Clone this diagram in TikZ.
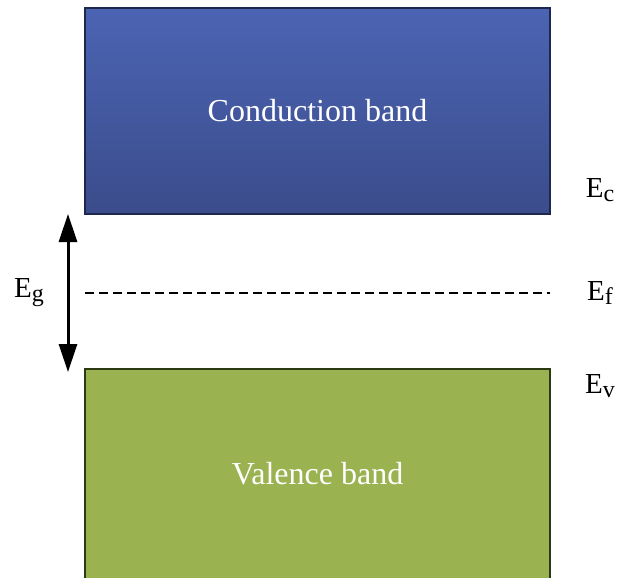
\documentclass[tikz,border=0pt]{standalone}
\usepackage{fontspec}
\setmainfont{Liberation Serif}
\usetikzlibrary{arrows.meta}
\definecolor{cbtop}{HTML}{4B64B3}
\definecolor{cbbot}{HTML}{3B4C8B}
\definecolor{cbline}{HTML}{1E284E}
\definecolor{vbfill}{HTML}{9AB250}
\definecolor{vbline}{HTML}{2C3A14}
\tikzset{
  band/.style={draw, line width=1.5pt, minimum width=465pt, inner sep=0pt,
    text=white, font=\fontsize{32}{36}\selectfont},
  level/.style={font=\fontsize{29}{32}\selectfont, anchor=center},
  gap/.style={line width=3pt, {Triangle[length=28pt,width=18pt]}-{Triangle[length=28pt,width=18pt]}},
  fermi/.style={line width=2.4pt, dash pattern=on 9pt off 5pt}
}
\newcommand{\lvl}[1]{E\raisebox{-0.3ex}{\fontsize{24}{26}\selectfont #1}}
\begin{document}
\begin{tikzpicture}[x=1pt,y=-1pt]
  \useasboundingbox (0,0) rectangle (619,578);
  % energy bands
  \node[band, draw=cbline, top color=cbtop, bottom color=cbbot,
        minimum height=206pt] (cb) at (317.5,111) {Conduction band};
  \node[band, draw=vbline, fill=vbfill, minimum height=210pt] (vb) at (317.5,474) {Valence band};
  % Fermi level
  \coordinate (fl) at (85,293);
  \coordinate (fr) at (550,293);
  \draw[fermi] (fl) -- (fr);
  % band gap arrow
  \coordinate (gt) at (68,214);
  \coordinate (gb) at (68,372);
  \draw[gap] (gt) -- (gb);
  % labels
  \node[level] (eg) at (29,293) {\lvl{g}};
  \node[level] (ec) at (600,190) {\lvl{c}};
  \node[level] (ef) at (600,293) {\lvl{f}};
  \node[level] (ev) at (600,386) {\lvl{v}};
\end{tikzpicture}
\end{document}
